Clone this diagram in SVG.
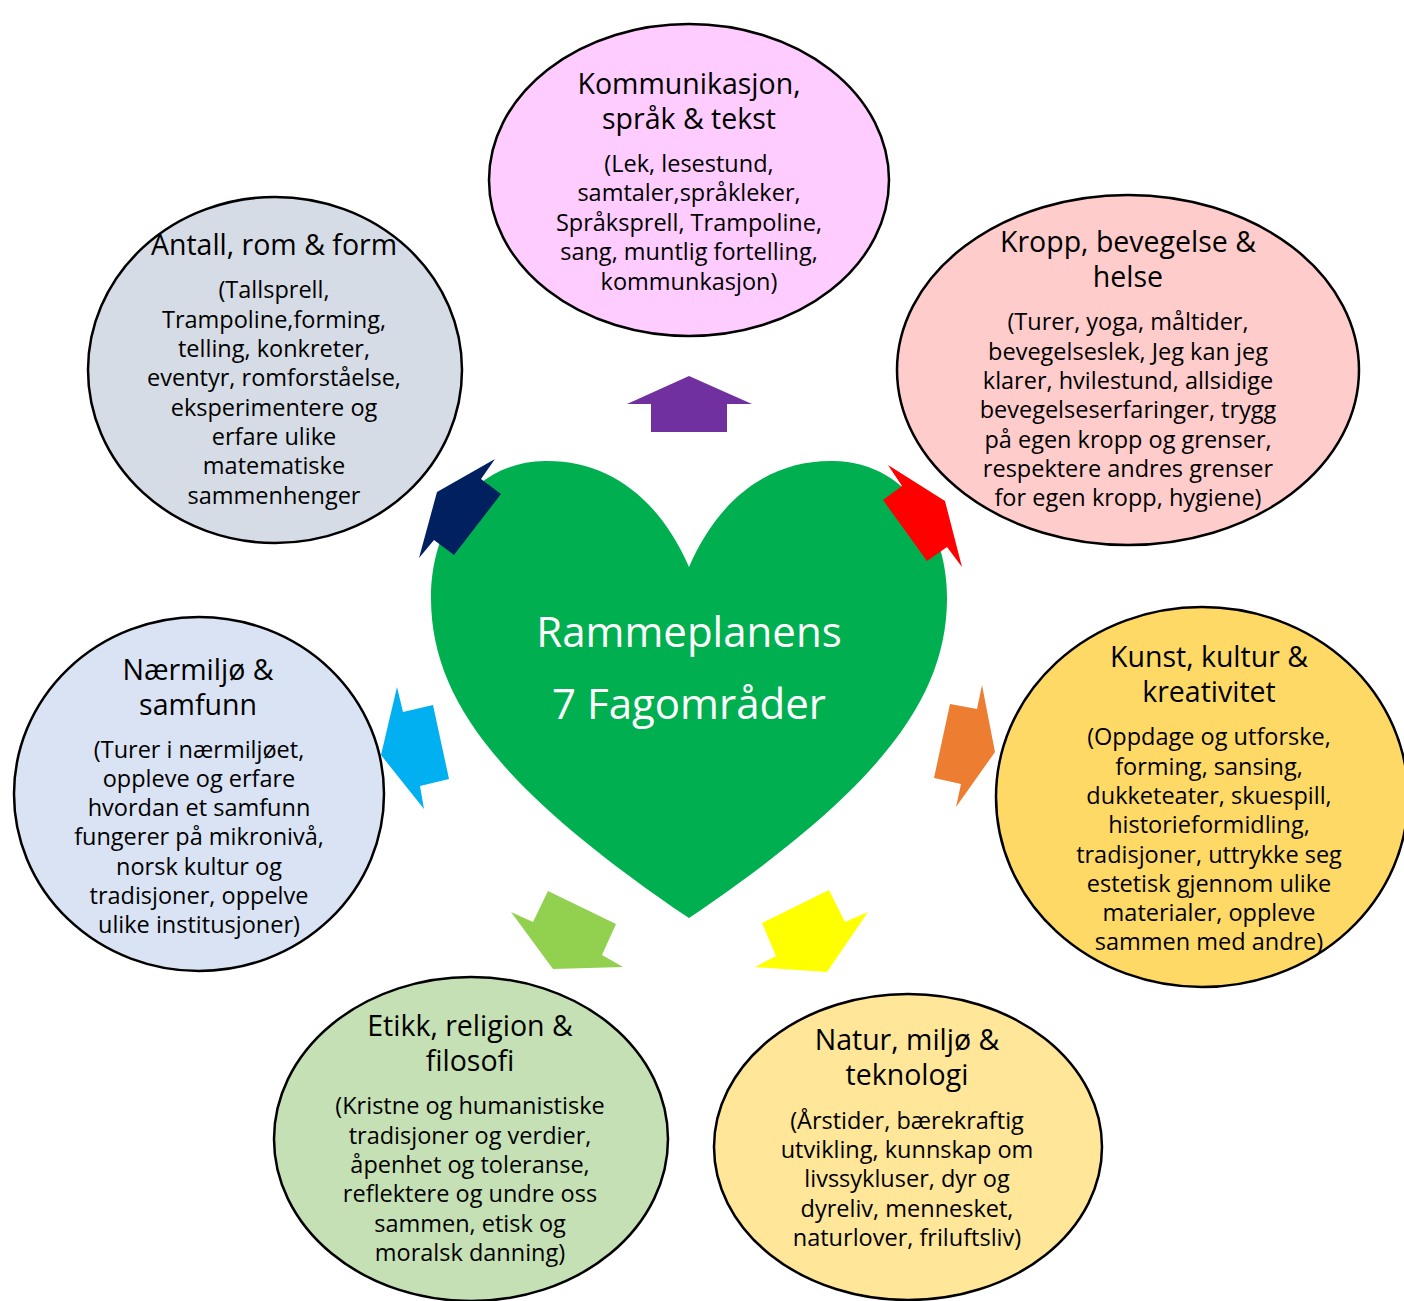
<svg xmlns="http://www.w3.org/2000/svg" width="1404" height="1301" viewBox="0 0 1404 1301">
<style>
.ell{stroke:#000;stroke-width:2.5}
.t{font-family:"Open Sans","Liberation Sans",sans-serif;fill:#000;text-anchor:middle}
.h{font-size:28.5px}
.b{font-size:23.5px}
.c{font-family:"Open Sans","Liberation Sans",sans-serif;fill:#fff;text-anchor:middle;font-size:42px}
</style>
<rect width="1404" height="1301" fill="#fff"/>
<g id="heart">
<path d="M689,567 C660,500 610,460 545,461 C470,462 430,530 431,600 C432,700 500,790 689,918 C878,790 946,700 947,600 C948,530 908,462 833,461 C768,460 718,500 689,567 Z" fill="#00B050"/>
<text class="c" x="689" y="647">Rammeplanens</text>
<text class="c" x="689" y="719">7 Fagområder</text>
</g>
<g id="connectors">
<polygon fill="#7030A0" points="689,376 752,404 727,404 727,432 651,432 651,404 627,404"/>
<polygon fill="#002060" points="495,459 481,479 501,494 454,555 434,540 419,558 437,492"/>
<polygon fill="#FF0000" points="888,465 902,486 883,500 927,561 947,547 962,567 945,501"/>
<polygon fill="#00B0F0" points="397,687 403,712 433,705 449,779 420,786 424,809 381,755"/>
<polygon fill="#ED7D31" points="982,685 977,709 950,704 934,778 961,784 956,807 995,752"/>
<polygon fill="#92D050" points="548,891 533,922 511,912 553,969 623,967 602,955 616,924"/>
<polygon fill="#FFFF00" points="829,890 845,922 868,912 827,972 755,967 776,956 762,923"/>
</g>
<g id="kommunikasjon">
<ellipse class="ell" cx="689" cy="180" rx="200" ry="156" fill="#FFCCFF"/>
<text class="t h" x="689" y="94">Kommunikasjon,</text>
<text class="t h" x="689" y="129">språk &amp; tekst</text>
<text class="t b" x="689" y="172">(Lek, lesestund,</text>
<text class="t b" x="689" y="201">samtaler,språkleker,</text>
<text class="t b" x="689" y="231">Språksprell, Trampoline,</text>
<text class="t b" x="689" y="260">sang, muntlig fortelling,</text>
<text class="t b" x="689" y="290">kommunkasjon)</text>
</g>
<g id="antall">
<ellipse class="ell" cx="275" cy="370" rx="187" ry="173" fill="#D6DCE5"/>
<text class="t h" x="274" y="255">Antall, rom &amp; form</text>
<text class="t b" x="274" y="298">(Tallsprell,</text>
<text class="t b" x="274" y="328">Trampoline,forming,</text>
<text class="t b" x="274" y="357">telling, konkreter,</text>
<text class="t b" x="274" y="386">eventyr, romforståelse,</text>
<text class="t b" x="274" y="416">eksperimentere og</text>
<text class="t b" x="274" y="445">erfare ulike</text>
<text class="t b" x="274" y="474">matematiske</text>
<text class="t b" x="274" y="504">sammenhenger</text>
</g>
<g id="kropp">
<ellipse class="ell" cx="1128" cy="370" rx="231" ry="175" fill="#FFCCCC"/>
<text class="t h" x="1128" y="252">Kropp, bevegelse &amp;</text>
<text class="t h" x="1128" y="287">helse</text>
<text class="t b" x="1128" y="330">(Turer, yoga, måltider,</text>
<text class="t b" x="1128" y="360">bevegelseslek, Jeg kan jeg</text>
<text class="t b" x="1128" y="389">klarer, hvilestund, allsidige</text>
<text class="t b" x="1128" y="418">bevegelseserfaringer, trygg</text>
<text class="t b" x="1128" y="448">på egen kropp og grenser,</text>
<text class="t b" x="1128" y="477">respektere andres grenser</text>
<text class="t b" x="1128" y="506">for egen kropp, hygiene)</text>
</g>
<g id="naermiljo">
<ellipse class="ell" cx="199" cy="794" rx="185" ry="177" fill="#DAE3F3"/>
<text class="t h" x="198" y="680">Nærmiljø &amp;</text>
<text class="t h" x="198" y="715">samfunn</text>
<text class="t b" x="199" y="758">(Turer i nærmiljøet,</text>
<text class="t b" x="199" y="787">oppleve og erfare</text>
<text class="t b" x="199" y="816">hvordan et samfunn</text>
<text class="t b" x="199" y="845">fungerer på mikronivå,</text>
<text class="t b" x="199" y="875">norsk kultur og</text>
<text class="t b" x="199" y="904">tradisjoner, oppelve</text>
<text class="t b" x="199" y="933">ulike institusjoner)</text>
</g>
<g id="kunst">
<ellipse class="ell" cx="1202" cy="797" rx="206" ry="190" fill="#FFD966"/>
<text class="t h" x="1209" y="667">Kunst, kultur &amp;</text>
<text class="t h" x="1209" y="702">kreativitet</text>
<text class="t b" x="1209" y="745">(Oppdage og utforske,</text>
<text class="t b" x="1209" y="775">forming, sansing,</text>
<text class="t b" x="1209" y="804">dukketeater, skuespill,</text>
<text class="t b" x="1209" y="833">historieformidling,</text>
<text class="t b" x="1209" y="863">tradisjoner, uttrykke seg</text>
<text class="t b" x="1209" y="892">estetisk gjennom ulike</text>
<text class="t b" x="1209" y="921">materialer, oppleve</text>
<text class="t b" x="1209" y="950">sammen med andre)</text>
</g>
<g id="etikk">
<ellipse class="ell" cx="471" cy="1139" rx="197" ry="162" fill="#C5E0B4"/>
<text class="t h" x="470" y="1036">Etikk, religion &amp;</text>
<text class="t h" x="470" y="1071">filosofi</text>
<text class="t b" x="470" y="1114">(Kristne og humanistiske</text>
<text class="t b" x="470" y="1144">tradisjoner og verdier,</text>
<text class="t b" x="470" y="1173">åpenhet og toleranse,</text>
<text class="t b" x="470" y="1202">reflektere og undre oss</text>
<text class="t b" x="470" y="1232">sammen, etisk og</text>
<text class="t b" x="470" y="1261">moralsk danning)</text>
</g>
<g id="natur">
<ellipse class="ell" cx="908" cy="1147" rx="194" ry="153" fill="#FFE699"/>
<text class="t h" x="907" y="1050">Natur, miljø &amp;</text>
<text class="t h" x="907" y="1085">teknologi</text>
<text class="t b" x="907" y="1129">(Årstider, bærekraftig</text>
<text class="t b" x="907" y="1158">utvikling, kunnskap om</text>
<text class="t b" x="907" y="1187">livssykluser, dyr og</text>
<text class="t b" x="907" y="1217">dyreliv, mennesket,</text>
<text class="t b" x="907" y="1246">naturlover, friluftsliv)</text>
</g>
</svg>
